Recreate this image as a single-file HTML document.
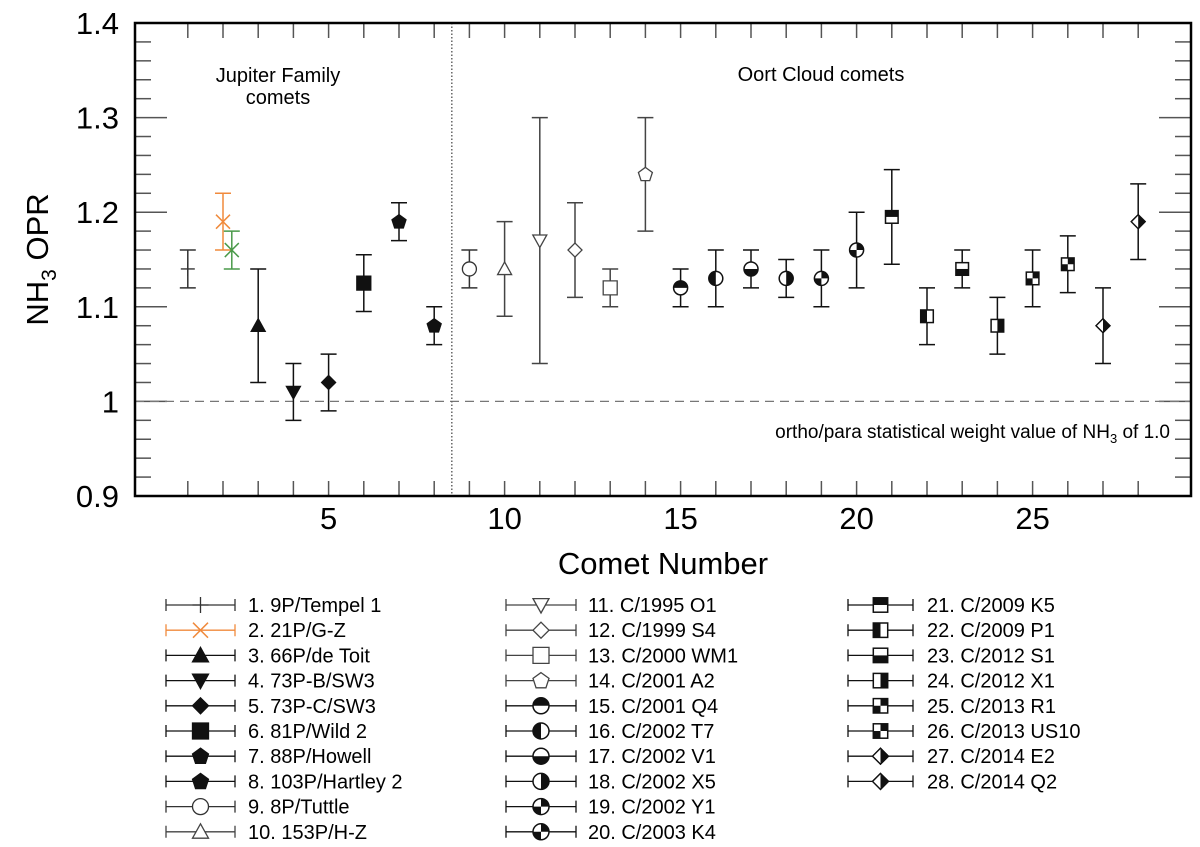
<!DOCTYPE html>
<html><head><meta charset="utf-8"><style>
body{margin:0;background:#fff;}
svg{display:block;font-family:"Liberation Sans",sans-serif;}
</style></head><body>
<svg id="chart" width="1200" height="847"></svg>
<script>
const comets=[1,2,2.25,3,4,5,6,7,8,9,10,11,12,13,14,15,16,17,18,19,20,21,22,23,24,25,26,27,28];
const oprValues=[1.14,1.19,1.16,1.08,1.01,1.02,1.125,1.19,1.08,1.14,1.14,1.17,1.16,1.12,1.24,1.12,1.13,1.14,1.13,1.13,1.16,1.195,1.09,1.14,1.08,1.13,1.145,1.08,1.19];
const errLow=[1.12,1.16,1.14,1.02,0.98,0.99,1.095,1.17,1.06,1.12,1.09,1.04,1.11,1.10,1.18,1.10,1.10,1.12,1.11,1.10,1.12,1.145,1.06,1.12,1.05,1.10,1.115,1.04,1.15];
const errHigh=[1.16,1.22,1.18,1.14,1.04,1.05,1.155,1.21,1.10,1.16,1.19,1.30,1.21,1.14,1.30,1.14,1.16,1.16,1.15,1.16,1.20,1.245,1.12,1.16,1.11,1.16,1.175,1.12,1.23];
const markers=['plus','x','x','tri','tridown','diamond','square','pent','pent','ocircle','otri','otridown','odiamond','osquare','opent','cTop','cLeft','cBottom','cRight','cQuad','cQuad','sTop','sLeft','sBottom','sRight','sQuad','sQuad','dHalf','dHalf'];
const colors=['#333','#f08a3c','#4a9a4a','#111','#111','#111','#111','#111','#111','#333','#444','#444','#444','#444','#444','#111','#111','#111','#111','#111','#111','#111','#111','#111','#111','#111','#111','#111','#111'];
const legendLabels=['1. 9P/Tempel 1','2. 21P/G-Z','3. 66P/de Toit','4. 73P-B/SW3','5. 73P-C/SW3','6. 81P/Wild 2','7. 88P/Howell','8. 103P/Hartley 2','9. 8P/Tuttle','10. 153P/H-Z','11. C/1995 O1','12. C/1999 S4','13. C/2000 WM1','14. C/2001 A2','15. C/2001 Q4','16. C/2002 T7','17. C/2002 V1','18. C/2002 X5','19. C/2002 Y1','20. C/2003 K4','21. C/2009 K5','22. C/2009 P1','23. C/2012 S1','24. C/2012 X1','25. C/2013 R1','26. C/2013 US10','27. C/2014 E2','28. C/2014 Q2'];
const yTicks=[0.9,1,1.1,1.2,1.3,1.4];
const yTickLabels=['0.9','1','1.1','1.2','1.3','1.4'];
const xTickLabels=[5,10,15,20,25];

const L=135,R=1191,T=23,B=496;
const X=v=>L+(v+0.5)*(R-L)/30;
const Y=v=>B-(v-0.9)*(B-T)/0.5;
const svg=document.getElementById('chart');
const NS='http://www.w3.org/2000/svg';
function el(tag,attrs,parent){const e=document.createElementNS(NS,tag);for(const k in attrs)e.setAttribute(k,attrs[k]);(parent||svg).appendChild(e);return e;}

for(let i=0;i<=25;i++){const v=0.9+i*0.02;const y=Y(v);const major=i%5===0;
 const t1=el('line',{x1:L,x2:L+(major?32:16),y1:y,y2:y,stroke:'#555','stroke-width':1.5});
 
 
 const t2=el('line',{x1:R,x2:R-(major?32:16),y1:y,y2:y,stroke:'#555','stroke-width':1.5});
 
 }
for(let v=1;v<=28;v++){
 const a=el('line',{x1:X(v),x2:X(v),y1:B,y2:B-15,stroke:'#555','stroke-width':1.5});
 
 
 const b=el('line',{x1:X(v),x2:X(v),y1:T,y2:T+15,stroke:'#555','stroke-width':1.5});
 
 }
yTicks.forEach((v,i)=>{const t=el('text',{x:L-16,y:Y(v)+11,'text-anchor':'end','font-size':31});t.textContent=yTickLabels[i];
 
 });
xTickLabels.forEach(v=>{const t=el('text',{x:X(v),y:B+33,'text-anchor':'middle','font-size':31});t.textContent=v;
 
 });
const ref=el('line',{x1:L,x2:R,y1:Y(1),y2:Y(1),stroke:'#777','stroke-width':1.2,'stroke-dasharray':'9,6'});


const sep=el('line',{x1:X(8.5),x2:X(8.5),y1:T,y2:B,stroke:'#666','stroke-width':1.5,'stroke-dasharray':'1.5,2'});


const frame=el('rect',{x:L,y:T,width:R-L,height:B-T,fill:'none',stroke:'#000','stroke-width':2.5});



function marker(type,cx,cy,col,s){
 const g=el('g',{});const r=s/2;const fill=col,st=col;
 const poly=(pts,f)=>el('polygon',{points:pts.map(p=>(cx+p[0]*r)+','+(cy+p[1]*r)).join(' '),fill:f,stroke:st,'stroke-width':1.3},g);
 if(type==='plus'){el('path',{d:`M${cx-r} ${cy}H${cx+r}M${cx} ${cy-r}V${cy+r}`,stroke:st,'stroke-width':1.3},g);}
 else if(type==='x'){el('path',{d:`M${cx-r} ${cy-r}L${cx+r} ${cy+r}M${cx-r} ${cy+r}L${cx+r} ${cy-r}`,stroke:st,'stroke-width':1.5},g);}
 else if(type==='tri'||type==='otri')poly([[0,-1],[1,0.8],[-1,0.8]],type==='tri'?fill:'#fff');
 else if(type==='tridown'||type==='otridown')poly([[0,1],[1,-0.8],[-1,-0.8]],type==='tridown'?fill:'#fff');
 else if(type==='diamond'||type==='odiamond')poly([[0,-1],[1,0],[0,1],[-1,0]],type==='diamond'?fill:'#fff');
 else if(type==='square'||type==='osquare')poly([[-1,-1],[1,-1],[1,1],[-1,1]],type==='square'?fill:'#fff');
 else if(type==='pent'||type==='opent'){const p=[];for(let i=0;i<5;i++){const a=-Math.PI/2+i*2*Math.PI/5;p.push([Math.cos(a)*1.05,Math.sin(a)*1.05+0.05]);}poly(p,type==='pent'?fill:'#fff');}
 else if(type==='ocircle'){el('circle',{cx,cy,r,fill:'#fff',stroke:st,'stroke-width':1.3},g);}
 else if(type[0]==='c'||type[0]==='s'){
  const circ=type[0]==='c';const rr=circ?r:r*0.9;
  if(circ)el('circle',{cx,cy,r:rr,fill:'#fff'},g);else el('rect',{x:cx-rr,y:cy-rr,width:2*rr,height:2*rr,fill:'#fff'},g);
  const q=type.slice(1);let d='';
  if(circ){
   if(q==='Top')d=`M${cx-rr} ${cy}A${rr} ${rr} 0 0 1 ${cx+rr} ${cy}Z`;
   if(q==='Bottom')d=`M${cx-rr} ${cy}A${rr} ${rr} 0 0 0 ${cx+rr} ${cy}Z`;
   if(q==='Left')d=`M${cx} ${cy-rr}A${rr} ${rr} 0 0 0 ${cx} ${cy+rr}Z`;
   if(q==='Right')d=`M${cx} ${cy-rr}A${rr} ${rr} 0 0 1 ${cx} ${cy+rr}Z`;
   if(q==='Quad')d=`M${cx} ${cy}L${cx} ${cy-rr}A${rr} ${rr} 0 0 1 ${cx+rr} ${cy}ZM${cx} ${cy}L${cx} ${cy+rr}A${rr} ${rr} 0 0 1 ${cx-rr} ${cy}Z`;
  }else{
   if(q==='Top')d=`M${cx-rr} ${cy-rr}h${2*rr}v${rr}h${-2*rr}Z`;
   if(q==='Bottom')d=`M${cx-rr} ${cy}h${2*rr}v${rr}h${-2*rr}Z`;
   if(q==='Left')d=`M${cx-rr} ${cy-rr}h${rr}v${2*rr}h${-rr}Z`;
   if(q==='Right')d=`M${cx} ${cy-rr}h${rr}v${2*rr}h${-rr}Z`;
   if(q==='Quad')d=`M${cx} ${cy-rr}h${rr}v${rr}h${-rr}ZM${cx-rr} ${cy}h${rr}v${rr}h${-rr}Z`;
  }
  el('path',{d,fill},g);
  if(circ)el('circle',{cx,cy,r:rr,fill:'none',stroke:st,'stroke-width':1.5},g);else el('rect',{x:cx-rr,y:cy-rr,width:2*rr,height:2*rr,fill:'none',stroke:st,'stroke-width':1.5},g);
 }
 else if(type==='dHalf'){poly([[0,-1],[1,0],[0,1],[-1,0]],'#fff');el('polygon',{points:`${cx},${cy-r} ${cx+r},${cy} ${cx},${cy+r}`,fill},g);poly([[0,-1],[1,0],[0,1],[-1,0]],'none');}
 return g;
}

comets.forEach((c,i)=>{
 const x=X(c),col=colors[i];
 const eb=el('path',{d:`M${x} ${Y(errLow[i])}V${Y(errHigh[i])}M${x-8} ${Y(errLow[i])}h16M${x-8} ${Y(errHigh[i])}h16`,stroke:col,'stroke-width':1.5,fill:'none'});
 
 
 const m=marker(markers[i],x,Y(oprValues[i]),col,14);
 
 
});

function txt(s,x,y,size,anchor,name){const t=el('text',{x,y,'font-size':size,'text-anchor':anchor||'start'});t.textContent=s;return t;}
txt('Jupiter Family',278,82,20,'middle','jfc-label');
txt('comets',278,104,20,'middle','jfc-label-2');
txt('Oort Cloud comets',821,81,20,'middle','occ-label');
const ann=el('text',{x:1170,y:438,'font-size':19,'text-anchor':'end'});
ann.innerHTML='ortho/para statistical weight value of NH<tspan font-size="13" dy="5">3</tspan><tspan dy="-5"> of 1.0</tspan>';


txt('Comet Number',663,574,31,'middle','x-axis-title');
const yt=el('text',{x:0,y:0,'font-size':31,'text-anchor':'middle',transform:`translate(48,${(T+B)/2}) rotate(-90)`});
yt.innerHTML='NH<tspan font-size="21" dy="8">3</tspan><tspan dy="-8"> OPR</tspan>';



const cols=[[166,235,248],[506,576,588],[848,913,927]];
legendLabels.forEach((lab,i)=>{
 const c=cols[Math.floor(i/10)],row=i%10,y=605+row*25.2;
 const idx=i<2?i:i+1;const col=colors[idx];
 const g=el('g',{});
 
 
 el('path',{d:`M${c[0]} ${y}H${c[1]}M${c[0]} ${y-6}v12M${c[1]} ${y-6}v12`,stroke:col,'stroke-width':1.3},g);
 g.appendChild(marker(markers[idx],(c[0]+c[1])/2,y,col,markers[idx]==='x'?15:16));
 const t=el('text',{x:c[2],y:y+7,'font-size':20},g);t.textContent=lab;
});
</script>
</body></html>
